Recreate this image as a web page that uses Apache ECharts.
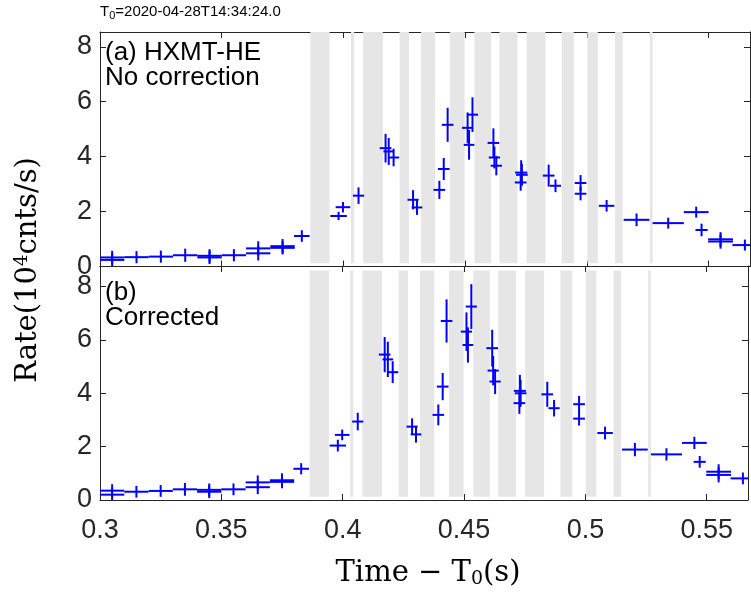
<!DOCTYPE html>
<html>
<head>
<meta charset="utf-8">
<script src="https://cdn.jsdelivr.net/npm/echarts@6/dist/echarts.min.js"></script>
<style>
html,body{margin:0;padding:0;background:#fff;}
#chart{width:751px;height:597px;}
</style>
</head>
<body>
<div id="chart"></div>
<script>
// ---- data ----
const timeCenters = [0.305,0.305,0.315,0.325,0.335,0.345,0.345,0.355,0.365,0.365,0.375,0.375,0.3829,
  0.3980,0.3998,0.4062,0.4173,0.4186,0.4206,0.4286,0.4302,0.4394,0.4412,0.4428,0.4510,0.4516,0.4530,0.4616,0.4620,0.4628,
  0.4730,0.4733,0.4728,0.4843,0.4871,0.4974,0.4974,0.5081,0.5204,0.5334,0.5449,0.5471,0.5549,0.5549,0.5649];
const timeHalfWidths = [0.005,0.005,0.005,0.005,0.005,0.005,0.005,0.005,0.005,0.005,0.005,0.005,0.0032,
  0.0034,0.0030,0.0023,0.0024,0.0022,0.0023,0.0023,0.0022,0.0024,0.0024,0.0024,0.0023,0.0022,0.0023,0.0024,0.0023,0.0023,
  0.0025,0.0024,0.0024,0.0024,0.0023,0.0024,0.0024,0.0032,0.0053,0.0064,0.0051,0.0025,0.0051,0.0051,0.0051];
const rateNoCorr = [0.33,0.24,0.34,0.36,0.41,0.39,0.33,0.41,0.66,0.48,0.74,0.68,1.11,
  1.84,2.16,2.58,4.31,4.19,3.97,2.43,2.15,2.79,3.55,5.16,5.05,4.43,5.53,4.50,3.97,3.67,
  3.42,3.34,3.06,3.31,2.94,3.04,2.65,2.21,1.70,1.58,1.98,1.33,0.99,0.91,0.78];
const errNoCorr = [0.24,0.24,0.22,0.22,0.24,0.24,0.24,0.22,0.26,0.26,0.26,0.24,0.21,
  0.15,0.19,0.30,0.52,0.49,0.32,0.35,0.27,0.33,0.40,0.62,0.56,0.54,0.63,0.53,0.40,0.35,
  0.45,0.40,0.30,0.40,0.23,0.29,0.24,0.21,0.23,0.20,0.20,0.23,0.26,0.26,0.20];
const rateCorr = [0.35,0.20,0.31,0.34,0.40,0.38,0.31,0.40,0.66,0.48,0.74,0.68,1.17,
  2.04,2.44,2.94,5.45,5.27,4.79,2.75,2.46,3.19,4.25,6.71,6.31,5.81,7.25,5.69,4.85,4.44,
  4.09,4.00,3.63,3.96,3.44,3.59,3.05,2.51,1.89,1.71,2.14,1.43,1.06,0.94,0.81];
const errCorr = [0.24,0.24,0.22,0.22,0.24,0.24,0.24,0.22,0.26,0.26,0.26,0.24,0.21,
  0.22,0.20,0.33,0.66,0.66,0.41,0.31,0.31,0.39,0.51,0.81,0.72,0.66,0.84,0.69,0.55,0.47,
  0.60,0.50,0.40,0.47,0.31,0.31,0.26,0.24,0.25,0.23,0.23,0.22,0.28,0.28,0.22];
const bandStarts = [0.3864,0.4031,0.4081,0.4231,0.4319,0.4438,0.4538,0.4641,0.4752,0.4897,0.5002,0.5116,0.5259];
const bandEnds   = [0.3943,0.4044,0.4162,0.4269,0.4377,0.4498,0.4607,0.4715,0.4830,0.4946,0.5045,0.5147,0.5270];
const bandYRange = [0.12, 8.6];
const xTickLabels = ['0.3','0.35','0.4','0.45','0.5','0.55'];
const yTickLabels = ['0','2','4','6','8'];
const xRange = [0.3, 0.567];
const yMaxA = 8.54, yMaxB = 8.77;

// ---- build ----
const errData = (rates, errs) => timeCenters.map((t,i)=>[t, timeHalfWidths[i], rates[i], errs[i]]);
const bandData = bandStarts.map((s,i)=>[s, bandEnds[i]]);

function clampX(v, cs){ return Math.max(cs.x, Math.min(cs.x+cs.width, v)); }
function clampY(v, cs){ return Math.max(cs.y, Math.min(cs.y+cs.height, v)); }

function renderErr(params, api){
  const cs = params.coordSys;
  const x = api.value(0), hw = api.value(1), y = api.value(2), e = api.value(3);
  const c = api.coord([x, y]);
  const l = api.coord([x-hw, y]), r = api.coord([x+hw, y]);
  const t = api.coord([x, y+e]), b = api.coord([x, y-e]);
  const st = {stroke:'#0000ff', lineWidth:2};
  return {type:'group', children:[
    {type:'line', shape:{x1:clampX(l[0],cs), y1:c[1], x2:clampX(r[0],cs), y2:c[1]}, style:st},
    {type:'line', shape:{x1:c[0], y1:clampY(t[1],cs), x2:c[0], y2:clampY(b[1],cs)}, style:st}
  ]};
}
function renderBand(params, api){
  const cs = params.coordSys;
  const p0 = api.coord([api.value(0), bandYRange[1]]);
  const p1 = api.coord([api.value(1), bandYRange[0]]);
  const y0 = clampY(p0[1], cs), y1 = clampY(p1[1], cs);
  return {type:'rect', shape:{x:p0[0], y:y0, width:Math.max(1,p1[0]-p0[0]), height:y1-y0}, style:{fill:'#e6e6e6'}};
}

const axisCol = '#262626';
const tickFont = {fontFamily:'Liberation Sans', fontSize:27, color:axisCol};
function xAx(grid, pos, labels){
  return {type:'value', gridIndex:grid, position:pos, min:xRange[0], max:xRange[1], interval:0.05,
    axisLine:{show:true, onZero:false, lineStyle:{color:axisCol, width:1}},
    axisTick:{show:true, inside:true, length:6, lineStyle:{color:axisCol}},
    splitLine:{show:false},
    axisLabel:{show:labels, margin:17, ...tickFont,
      formatter:(v)=>{ const k = Math.round((v-xRange[0])/0.05); return (Math.abs(v-(xRange[0]+k*0.05))<1e-6 && k < xTickLabels.length) ? xTickLabels[k] : ''; }}};
}
function yAx(grid, pos, max, labels){
  return {type:'value', gridIndex:grid, position:pos, min:0, max:max, interval:2,
    axisLine:{show:true, onZero:false, lineStyle:{color:axisCol, width:1}},
    axisTick:{show:true, inside:true, length:6, lineStyle:{color:axisCol}},
    splitLine:{show:false},
    axisLabel:{show:labels, margin:8, ...tickFont,
      formatter:(v)=>{ const k = Math.round(v/2); return (Math.abs(v-2*k)<1e-6 && k < yTickLabels.length) ? yTickLabels[k] : ''; }}};
}

const chart = echarts.init(document.getElementById('chart'), null, {renderer:'canvas'});
chart.setOption({
  animation:false,
  backgroundColor:'#ffffff',
  grid:[
    {left:100, top:32, width:650, height:234.5},
    {left:100, top:266, width:650, height:234}
  ],
  xAxis:[xAx(0,'bottom',false), xAx(0,'top',false), xAx(1,'bottom',true), xAx(1,'top',false)],
  yAxis:[yAx(0,'left',yMaxA,true), yAx(0,'right',yMaxA,false), yAx(1,'left',yMaxB,true), yAx(1,'right',yMaxB,false)],
  series:[
    {type:'custom', xAxisIndex:0, yAxisIndex:0, data:bandData, renderItem:renderBand, z:1, silent:true},
    {type:'custom', xAxisIndex:2, yAxisIndex:2, data:bandData, renderItem:renderBand, z:1, silent:true},
    {type:'custom', xAxisIndex:0, yAxisIndex:0, data:errData(rateNoCorr, errNoCorr), renderItem:renderErr, z:3, silent:true},
    {type:'custom', xAxisIndex:2, yAxisIndex:2, data:errData(rateCorr, errCorr), renderItem:renderErr, z:3, silent:true}
  ],
  graphic:[
    {type:'text', left:100, top:4, z:10, style:{text:'T{sub|0}=2020-04-28T14:34:24.0', fontFamily:'Liberation Sans', fontSize:15, fill:'#000',
      rich:{sub:{fontSize:11, fontFamily:'Liberation Sans', verticalAlign:'bottom', padding:[8,0,0,0]}}}},
    {type:'text', x:105, y:40, z:10, style:{text:'(a) HXMT-HE\nNo correction', fontFamily:'Liberation Sans', fontSize:26, lineHeight:25, fill:'#000'}},
    {type:'text', x:105, y:280, z:10, style:{text:'(b)\nCorrected', fontFamily:'Liberation Sans', fontSize:26, lineHeight:25, fill:'#000'}},
    {type:'text', x:28, y:270, rotation:Math.PI/2, z:10, style:{text:'Rate(10{sup|4}cnts/s)', fontFamily:'DejaVu Serif', fontSize:29, fill:'#000', align:'center', verticalAlign:'middle',
      rich:{sup:{fontSize:18, fontFamily:'DejaVu Serif', verticalAlign:'top', padding:[0,0,12,0]}}}},
    {type:'text', x:428, y:573, z:10, style:{text:'Time − T{sub|0}(s)', fontFamily:'DejaVu Serif', fontSize:29, fill:'#000', align:'center', verticalAlign:'middle',
      rich:{sub:{fontSize:19, fontFamily:'DejaVu Serif', verticalAlign:'bottom', padding:[12,0,0,0]}}}}
  ]
});
</script>
</body>
</html>
